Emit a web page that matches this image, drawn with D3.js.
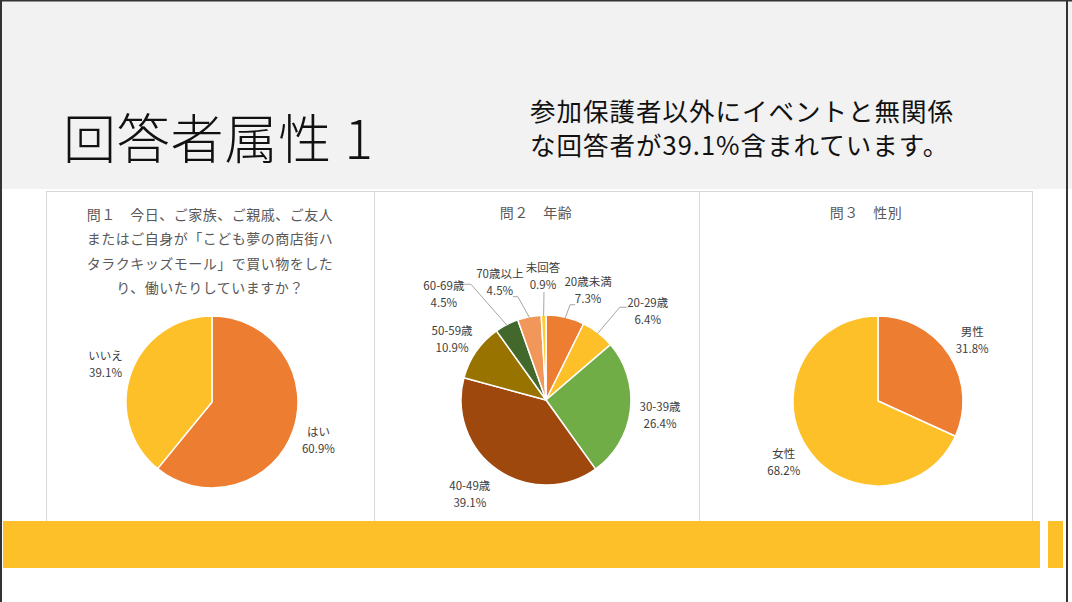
<!DOCTYPE html>
<html><head><meta charset="utf-8">
<script src="https://cdn.jsdelivr.net/npm/d3@7"></script>
<style>
html,body{margin:0;padding:0;background:#fff;overflow:hidden}
svg{display:block}
text{font-family:"Noto Sans CJK JP","Noto Sans",sans-serif}
</style></head><body>
<svg id="c" width="1072" height="602"></svg>
<script>
// ---- data ----
const slideTitle = "回答者属性 1";
const slideNote = ["参加保護者以外にイベントと無関係", "な回答者が39.1%含まれています。"];

const q1Title = ["問１　今日、ご家族、ご親戚、ご友人", "またはご自身が「こども夢の商店街ハ", "タラクキッズモール」で買い物をした", "り、働いたりしていますか？"];
const q1Categories = ["はい", "いいえ"];
const q1Values = [60.9, 39.1];

const q2Title = ["問２　年齢"];
const q2Categories = ["20歳未満", "20-29歳", "30-39歳", "40-49歳", "50-59歳", "60-69歳", "70歳以上", "未回答"];
const q2Values = [7.3, 6.4, 26.4, 39.1, 10.9, 4.5, 4.5, 0.9];

const q3Title = ["問３　性別"];
const q3Categories = ["男性", "女性"];
const q3Values = [31.8, 68.2];

// ---- styles / layout ----
const ORANGE = "#ED7D31", GOLD = "#FDC028";
const q1Colors = [ORANGE, GOLD];
const q2Colors = [ORANGE, GOLD, "#70AD47", "#9E480E", "#997300", "#43682B", "#F1975A", "#FFCD33"];
const q3Colors = [ORANGE, GOLD];

// label placement for age chart: [angle deg (clockwise from top), distance from center]
const q2LabelPolar = [[20.9,118],[48.9,135],[97.5,115],[219,121],[303,112],[316,147],[338.7,127],[358.6,124]];
// leader line end relative to label centre and elbow offset (null = no leader)
const q2Leader = [[-13,15,-5],[-21,-4,-7],null,null,null,[20,-10,7],[13,15,5],[1,16,0]];

const svg = d3.select("#c");

// slide background
svg.append("rect").attr("x",0).attr("y",0).attr("width",1072).attr("height",189).attr("fill","#f2f2f2");
svg.append("rect").attr("x",0).attr("y",0).attr("width",2).attr("height",602).attr("fill","#333");
svg.append("rect").attr("x",0).attr("y",0).attr("width",1072).attr("height",1.5).attr("fill","#333");
svg.append("rect").attr("x",1066).attr("y",0).attr("width",2).attr("height",602).attr("fill","#333");

svg.append("text").attr("x",63).attr("y",159).attr("font-size",53).attr("font-weight",300)
  .attr("letter-spacing",0.8).attr("fill","#111").text(slideTitle);
svg.selectAll("text.note").data(slideNote).enter().append("text").attr("class","note")
  .attr("x",530).attr("y",(d,i)=>121+i*34).attr("font-size",25.5).attr("font-weight",400)
  .attr("letter-spacing",1).attr("fill","#111").text(d=>d);

// panels
const panels = [{x:46,w:328},{x:374,w:325},{x:699,w:333}];
panels.forEach(p=>{
  svg.append("rect").attr("x",p.x+0.5).attr("y",191.5).attr("width",p.w).attr("height",330)
    .attr("fill","#fff").attr("stroke","#d9d9d9").attr("stroke-width",1);
});

// yellow bar
svg.append("rect").attr("x",3).attr("y",521).attr("width",1037).attr("height",47).attr("fill",GOLD);
svg.append("rect").attr("x",1048).attr("y",521).attr("width",15).attr("height",47).attr("fill",GOLD);

const pie = d3.pie().sort(null).value(d=>d.v);
const rad = a => a*Math.PI/180;

function drawTitle(lines, cx, y0){
  svg.selectAll(null).data(lines).enter().append("text")
    .attr("x",cx).attr("y",(d,i)=>y0+i*24.3).attr("text-anchor","middle")
    .attr("font-size",14).attr("letter-spacing",0.5).attr("fill","#595959").text(d=>d);
}

function drawPie(cats, vals, colors, cx, cy, r, labelFn){
  const data = cats.map((c,i)=>({c, v:vals[i], col:colors[i]}));
  const arcs = pie(data);
  const arc = d3.arc().innerRadius(0).outerRadius(r);
  const g = svg.append("g").attr("transform",`translate(${cx},${cy})`);
  g.selectAll("path").data(arcs).enter().append("path")
    .attr("d",arc).attr("fill",d=>d.data.col).attr("stroke","#fff").attr("stroke-width",1.5)
    .attr("stroke-linejoin","round");
  arcs.forEach((a,i)=>{
    const mid = (a.startAngle+a.endAngle)/2;
    const pos = labelFn(a,i,mid);
    const lg = g.append("g").attr("transform",`translate(${pos[0]},${pos[1]})`);
    lg.append("text").attr("x",0).attr("y",-4).attr("text-anchor","middle")
      .attr("font-size",11.5).attr("fill","#404040").text(a.data.c);
    lg.append("text").attr("x",0).attr("y",13).attr("text-anchor","middle")
      .attr("font-size",11.5).attr("fill","#404040").text(a.data.v.toFixed(1)+"%");
  });
  return {g, arcs};
}

function defaultLabel(r){
  return (a,i,mid)=>[Math.sin(mid)*(r+27), -Math.cos(mid)*(r+27)];
}

// Q1
drawTitle(q1Title, 210, 220);
drawPie(q1Categories, q1Values, q1Colors, 212, 402, 86, defaultLabel(86));

// Q2
drawTitle(q2Title, 536, 218);
const R2 = 85;
const p2 = drawPie(q2Categories, q2Values, q2Colors, 546, 400, R2, (a,i)=>{
  const [ang, dist] = q2LabelPolar[i];
  return [Math.sin(rad(ang))*dist, -Math.cos(rad(ang))*dist];
});
p2.arcs.forEach((a,i)=>{
  const L = q2Leader[i]; if(!L) return;
  const mid = (a.startAngle+a.endAngle)/2;
  const [ang, dist] = q2LabelPolar[i];
  const lx = Math.sin(rad(ang))*dist, ly = -Math.cos(rad(ang))*dist;
  const end = [lx+L[0], ly+L[1]];
  const elbow = [end[0]+L[2], end[1]];
  const start = [Math.sin(mid)*(R2-1), -Math.cos(mid)*(R2-1)];
  p2.g.append("path").attr("d",d3.line()([start, elbow, end]))
    .attr("fill","none").attr("stroke","#a6a6a6").attr("stroke-width",1);
});

// Q3
drawTitle(q3Title, 866, 218);
drawPie(q3Categories, q3Values, q3Colors, 878, 401, 85, defaultLabel(85));
</script>
</body></html>
